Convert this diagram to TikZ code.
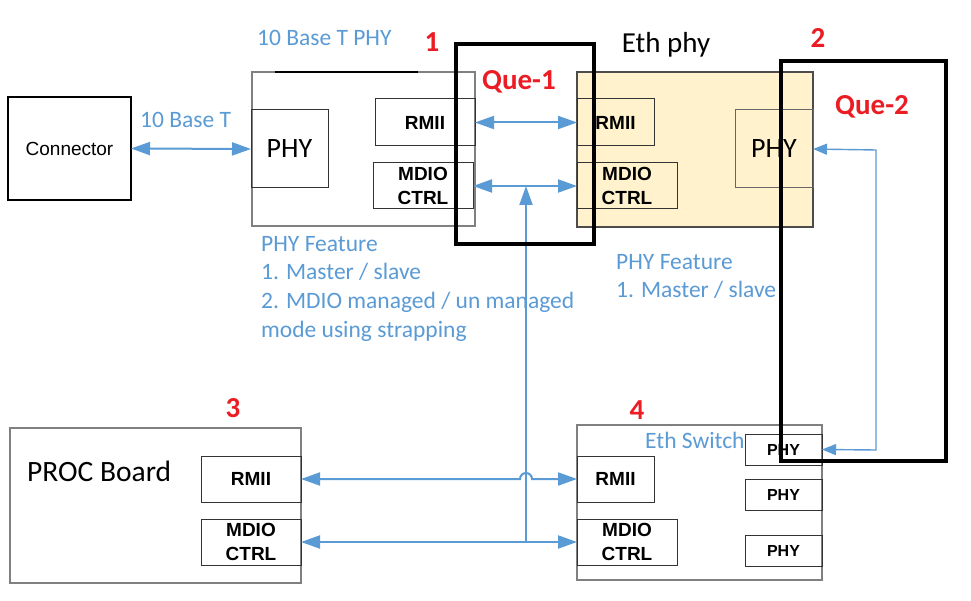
\documentclass[tikz,border=0pt]{standalone}
\usepackage{fontspec}
\setmainfont{Carlito}
\newfontfamily\arialf{Liberation Sans}
\usetikzlibrary{arrows.meta}
\definecolor{lblue}{RGB}{91,155,213}
\definecolor{qred}{RGB}{235,28,36}
\definecolor{wheatf}{RGB}{255,242,204}
\definecolor{bgray}{RGB}{128,128,128}
\newcommand\fs[2]{\fontsize{#1}{#2}\selectfont}
\begin{document}
\begin{tikzpicture}[x=1pt,y=-1pt,
  box/.style={draw=bgray, line width=1.3pt, inner sep=0pt, outer sep=0pt, anchor=north west},
  ibox/.style={draw=black!80, line width=1pt, inner sep=0pt, outer sep=0pt, anchor=north west, align=center, font=\arialf\bfseries\fs{19}{24}},
  pbox/.style={draw=black!80, line width=1pt, inner sep=0pt, outer sep=0pt, anchor=north west, font=\fs{28}{30}},
  qbox/.style={draw=black, line width=3.5pt, inner sep=0pt, outer sep=0pt, anchor=north west},
  bluelbl/.style={text=lblue, font=\fs{23.5}{28.7}, inner sep=0pt},
  redlbl/.style={text=qred, font=\bfseries\fs{29}{30}, inner sep=0pt},
  conn/.style={draw=lblue, line width=2pt, {Triangle[length=19pt,width=13pt]}-{Triangle[length=19pt,width=13pt]}},
  conn1/.style={draw=lblue, line width=2pt, -{Triangle[length=19pt,width=13pt]}},
  thinconn/.style={draw=lblue, line width=1.4pt, {Triangle[length=14pt,width=11pt]}-{Triangle[length=14pt,width=11pt]}}
]
\useasboundingbox (0,0) rectangle (971,601);
\fill[white] (0,0) rectangle (971,601);

% Connector
\node[draw=black, line width=2pt, inner sep=0pt, outer sep=0pt, anchor=north west, minimum width=123pt, minimum height=103pt, font=\arialf\fs{19}{22}] (conn) at (8,97) {Connector};

% 10 Base T PHY
\node[box, minimum width=223pt, minimum height=154pt] (phyA) at (252,72) {};
\draw[black, line width=1.3pt] (275,72) -- (418,72);
\node[pbox, minimum width=77pt, minimum height=78pt] (phyA1) at (251,110) {PHY};
\node[ibox, minimum width=100pt, minimum height=47pt] (rmiiA) at (375,99) {RMII};
\node[ibox, minimum width=100pt, minimum height=46pt] (mdioA) at (373,163) {MDIO\\CTRL};

% Eth phy
\node[box, draw=black!70, fill=wheatf, minimum width=236pt, minimum height=155pt] (ethphy) at (577,72) {};
\node[ibox, minimum width=77pt, minimum height=47pt] (rmiiB) at (577,99) {RMII};
\node[ibox, minimum width=100pt, minimum height=46pt] (mdioB) at (577,163) {MDIO\\CTRL};
\node[pbox, draw=black!60, minimum width=78pt, minimum height=78pt] (phyB) at (735,110) {PHY};

% PROC board
\node[box, minimum width=291pt, minimum height=155pt] (proc) at (10,428) {};
\node[ibox, minimum width=100pt, minimum height=46pt] (rmiiC) at (201,456) {RMII};
\node[ibox, minimum width=100pt, minimum height=46pt] (mdioC) at (201,519) {MDIO\\CTRL};

% Eth switch
\node[box, minimum width=245pt, minimum height=155pt] (sw) at (577,425) {};
\node[ibox, minimum width=77pt, minimum height=46pt] (rmiiD) at (577,456) {RMII};
\node[ibox, minimum width=100pt, minimum height=46pt] (mdioD) at (577,519) {MDIO\\CTRL};
\node[ibox, font=\arialf\bfseries\fs{16}{18}, minimum width=77pt, minimum height=31pt] (swphy1) at (745,434) {PHY};
\node[ibox, font=\arialf\bfseries\fs{16}{18}, minimum width=77pt, minimum height=31pt] (swphy2) at (745,479) {PHY};
\node[ibox, font=\arialf\bfseries\fs{16}{18}, minimum width=77pt, minimum height=31pt] (swphy3) at (745,535) {PHY};

% connectors
\draw[conn] (conn.east) -- (phyA1.west);
\draw[conn] (rmiiA.east) -- (rmiiB.west |- rmiiA.east);
\draw[conn] (mdioA.east) -- (mdioB.west |- mdioA.east);
\coordinate (jtop) at (526,186);
\coordinate (jbot) at (526,542);
\draw[conn1] (jbot) -- (jtop);
\coordinate (hopL) at (520,479);
\draw[conn] (rmiiC.east) -- (hopL) arc (180:360:6) -- (rmiiD.west);
\draw[conn] (mdioC.east) -- (mdioD.west);
\coordinate (q2b) at (876,450);
\coordinate (q2t) at (876,150);
\draw[thinconn] (swphy1.east) -- (q2b) -- (q2t) -- (phyB.east);

% question boxes
\node[qbox, minimum width=138pt, minimum height=200pt] (que1) at (456,44) {};
\node[qbox, minimum width=165pt, minimum height=400pt] (que2) at (781,61) {};

% labels
\node[bluelbl, anchor=west] (lblA) at (257,38) {10 Base T PHY};
\node[bluelbl, anchor=west] (lblT) at (140,120) {10 Base T};
\node[font=\fs{29}{30}, inner sep=0pt] (lblE) at (666,45) {Eth phy};
\node[redlbl] (n1) at (432,42) {1};
\node[redlbl] (n2) at (818,38) {2};
\node[redlbl] (n3) at (233,408) {3};
\node[redlbl] (n4) at (637,410) {4};
\node[redlbl] (q1) at (519,82) {Que-1};
\node[redlbl] (q2) at (872,107) {Que-2};
\node[bluelbl, anchor=north west, align=left] (featA) at (261,236) {PHY Feature\\1. Master / slave\\2. MDIO managed / un managed\\mode using strapping};
\node[bluelbl, anchor=north west, align=left] (featB) at (616,254) {PHY Feature\\1. Master / slave};
\node[bluelbl, anchor=west] (lblS) at (645,440) {Eth Switch};
\node[font=\fs{29.5}{30}, inner sep=0pt, anchor=west] (lblP) at (27,471) {PROC Board};
\end{tikzpicture}
\end{document}
